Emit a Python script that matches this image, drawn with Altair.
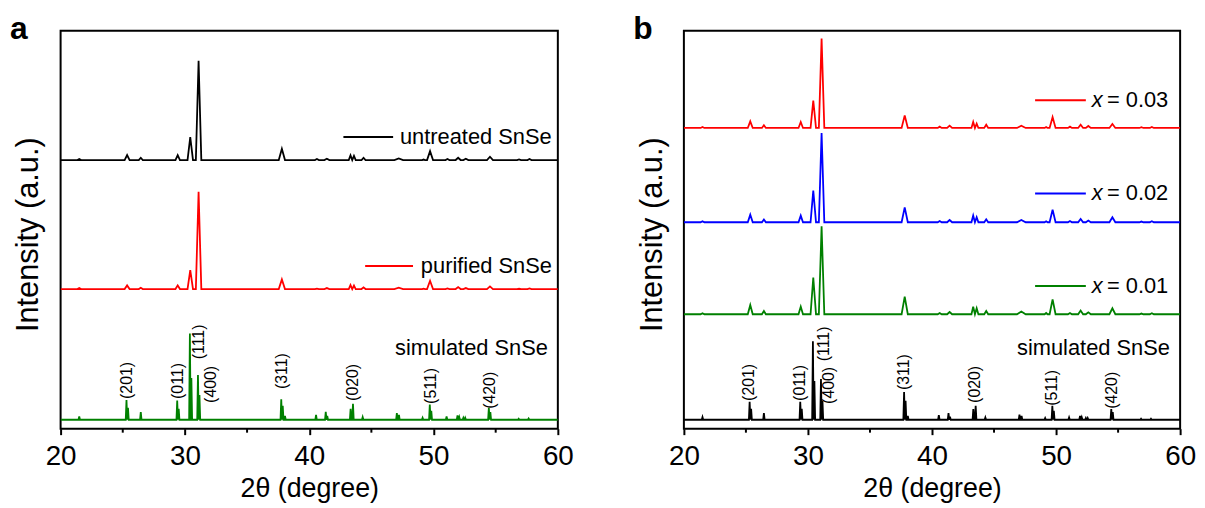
import altair as alt
import pandas as pd

# ---------------- data ----------------
X_DOMAIN = [20, 60]
Y_DOMAIN = [0, 401]          # arbitrary intensity units (offset stacked)
MAJOR_TICKS = [20, 30, 40, 50, 60]
MINOR_TICKS = [25, 35, 45, 55]

# measured patterns: shared peak positions (2theta, degree) and half widths
exp_pos = [21.5, 25.35, 26.45, 29.42, 30.43, 31.1, 37.8, 40.62, 41.42, 43.32, 43.6,
           44.37, 47.2, 49.2, 49.72, 51.12, 51.98, 52.6, 54.54, 56.88, 57.72]
exp_hw = [0.15, 0.2, 0.16, 0.18, 0.22, 0.22, 0.25, 0.16, 0.2, 0.14, 0.14,
          0.16, 0.35, 0.12, 0.24, 0.16, 0.2, 0.2, 0.24, 0.16, 0.16]

untreated_h = [1, 5, 2.3, 5, 23, 100, 11.3, 1, 1.3, 4.7, 4.2,
               2.3, 1.7, 0.5, 9, 1, 2.3, 1.3, 3.3, 0.7, 1]
purified_h = [1, 3.7, 1.3, 3.7, 19, 98, 9.7, 0.5, 1, 4, 3.5,
              1.7, 1.3, 0.4, 8.3, 0.7, 2, 1, 2.7, 0.3, 0.7]
x003_h = [1, 6.7, 2.7, 6, 27.7, 90, 12.7, 1.3, 2.3, 6, 4.3,
          3.3, 2.3, 1, 11, 1.3, 3.3, 2, 4, 0.7, 1]
x002_h = [1, 7.7, 2.7, 6.7, 32, 90, 15, 1.3, 2.3, 6.7, 5,
          3, 2.3, 1, 12.7, 1.3, 3.3, 1.7, 5, 0.7, 1]
x001_h = [1, 9.3, 3.3, 7.7, 37, 88.7, 17.7, 1.3, 2.3, 7.7, 6,
          3.3, 2.7, 1.3, 15, 1.3, 3.7, 2, 6, 0.7, 1]

# simulated SnSe pattern: line positions, half widths
sim_pos = [21.5, 25.3, 25.42, 26.45, 29.38, 29.5, 30.4, 30.52, 31.05, 31.17, 37.75, 37.87,
           38.05, 40.55, 41.33, 41.45, 43.33, 43.52, 44.3, 47.05, 47.22, 49.12, 49.7, 49.82,
           51.05, 51.93, 52.07, 52.4, 52.55, 54.45, 54.57, 56.85, 57.65]
sim_hw = [0.06] * len(sim_pos)
sim_a_h = [3.3, 20, 12, 7.7, 19.3, 11, 87, 42, 45, 25, 20.7, 14,
           4, 5, 8, 4, 11, 16, 2.7, 6.7, 5, 2, 15.3, 9,
           3.3, 4.3, 2.7, 2, 2, 12, 7.7, 1, 1.3]
sim_b_h = [2.7, 18, 11, 6.7, 18, 11, 79, 39, 41, 19, 28, 19,
           4, 4.7, 6.7, 3, 10.7, 14, 2.3, 5.3, 4, 1.7, 14, 9,
           2.3, 4, 2.5, 1.7, 1.7, 10.7, 7.7, 1, 1]

# baseline offsets of the stacked patterns
base_a = {"untreated SnSe": 270.7, "purified SnSe": 140.7, "simulated a": 9}
base_b = {"x = 0.03": 303, "x = 0.02": 208, "x = 0.01": 115.3, "simulated b": 9}

# (hkl) labels: text, position (degree), bottom of text (intensity units)
hkl_text = ["(201)", "(011)", "(111)", "(400)", "(311)", "(020)", "(511)", "(420)"]
hkl_x_a = [25.35, 29.42, 31.1, 32.14, 37.8, 43.55, 49.78, 54.57]
hkl_y_a = [30, 30, 70, 26, 40, 28, 25, 20]
hkl_x_b = [25.24, 29.33, 31.33, 31.73, 37.74, 43.5, 49.68, 54.49]
hkl_y_b = [28, 28, 68, 25, 39, 26, 23, 20]

# inline legend entries: label, line start/end (degree), level, text start (degree)
leg_a_label = ["untreated SnSe", "purified SnSe"]
leg_a_x1 = [42.75, 44.5]
leg_a_x2 = [46.75, 48.35]
leg_a_y = [294, 164]
leg_a_tx = [47.3, 48.98]
leg_b_val = ["= 0.03", "= 0.02", "= 0.01"]
leg_b_x1 = [48.31, 48.31, 48.31]
leg_b_x2 = [52.4, 52.4, 52.4]
leg_b_y = [331, 237, 143.7]
leg_b_tx = [52.87, 52.87, 52.87]
leg_b_tx2 = [54.1, 54.1, 54.1]
sim_label_x = [46.9, 46.85]
sim_label_y = [81, 81]

COLORS = {"untreated SnSe": "#000000", "purified SnSe": "#ff0000", "simulated a": "#008000",
          "x = 0.03": "#ff0000", "x = 0.02": "#0000ff", "x = 0.01": "#008000",
          "simulated b": "#000000"}
LEG_B_COLORS = ["#ff0000", "#0000ff", "#008000"]

FONT = "Liberation Sans"


def trace(name, pos, hw, heights, base):
    xs, ys = [X_DOMAIN[0]], [base]
    for p, w, h in zip(pos, hw, heights):
        xs += [p - w, p, p + w]
        ys += [base, base + h, base]
    xs.append(X_DOMAIN[1])
    ys.append(base)
    return pd.DataFrame({"x": xs, "y": ys, "series": name, "o": range(len(xs))})


df_a = pd.concat([
    trace("untreated SnSe", exp_pos, exp_hw, untreated_h, base_a["untreated SnSe"]),
    trace("purified SnSe", exp_pos, exp_hw, purified_h, base_a["purified SnSe"]),
    trace("simulated a", sim_pos, sim_hw, sim_a_h, base_a["simulated a"]),
])
df_b = pd.concat([
    trace("x = 0.03", exp_pos, exp_hw, x003_h, base_b["x = 0.03"]),
    trace("x = 0.02", exp_pos, exp_hw, x002_h, base_b["x = 0.02"]),
    trace("x = 0.01", exp_pos, exp_hw, x001_h, base_b["x = 0.01"]),
    trace("simulated b", sim_pos, sim_hw, sim_b_h, base_b["simulated b"]),
])

xs = alt.Scale(domain=X_DOMAIN, nice=False, zero=False)
ys = alt.Scale(domain=Y_DOMAIN, nice=False, zero=False)

X_AXIS = alt.Axis(
    values=MAJOR_TICKS, title="2θ (degree)", grid=False, domain=False,
    ticks=True, tickSize=6, tickWidth=2, tickColor="black",
    labelFontSize=28, labelColor="black", labelFont=FONT, labelPadding=8,
    labelFlush=False,
    titleFontSize=27, titleFontWeight="normal", titleColor="black",
    titleFont=FONT, titleY=47, titleBaseline="top")
Y_AXIS = alt.Axis(
    title="Intensity (a.u.)", labels=False, ticks=False, domain=False, grid=False,
    titleFontSize=31, titleFontWeight="normal", titleColor="black", titleFont=FONT,
    titleX=-23, titleY=205, titleBaseline="alphabetic", titleAngle=270)


def X(field):
    return alt.X(field, scale=xs, axis=X_AXIS)


def Y(field):
    return alt.Y(field, scale=ys, axis=Y_AXIS)


def panel(df, width, letter, hkl_x, hkl_y, sim_x, sim_y, legend_layers):
    names = list(df["series"].unique())
    lines = alt.Chart(df).mark_line(strokeWidth=1.8, clip=True).encode(
        x=X("x:Q"), y=Y("y:Q"),
        color=alt.Color("series:N", legend=None,
                        scale=alt.Scale(domain=names, range=[COLORS[n] for n in names])),
        order=alt.Order("o:Q"),
    )
    minor = alt.Chart(pd.DataFrame({"x": MINOR_TICKS})).mark_rule(
        color="black", strokeWidth=2).encode(
        x=X("x:Q"), y=alt.value(401), y2=alt.value(405))
    hkl = alt.Chart(pd.DataFrame({"t": hkl_text, "x": hkl_x, "y": hkl_y})).mark_text(
        angle=270, align="left", baseline="middle", fontSize=16, font=FONT, color="black"
    ).encode(x=X("x:Q"), y=Y("y:Q"), text="t:N")
    sim = alt.Chart(pd.DataFrame({"t": ["simulated SnSe"], "x": [sim_x], "y": [sim_y]})
                    ).mark_text(align="left", baseline="middle", fontSize=22, font=FONT,
                                color="black").encode(x=X("x:Q"), y=Y("y:Q"), text="t:N")
    let = alt.Chart(pd.DataFrame({"t": [letter]})).mark_text(
        align="left", baseline="alphabetic", fontSize=32, fontWeight="bold", font=FONT,
        color="black").encode(x=alt.value(-51), y=alt.value(8), text="t:N")
    return alt.layer(lines, minor, hkl, sim, *legend_layers, let).properties(
        width=width, height=401)


# legends for panel a
leg_a_df = pd.DataFrame({"label": leg_a_label, "x": leg_a_x1, "x2": leg_a_x2,
                         "y": leg_a_y, "tx": leg_a_tx,
                         "c": [COLORS[n] for n in leg_a_label]})
leg_a_lines = alt.Chart(leg_a_df).mark_rule(strokeWidth=2).encode(
    x=X("x:Q"), x2="x2:Q", y=Y("y:Q"),
    color=alt.Color("c:N", scale=None, legend=None))
leg_a_text = alt.Chart(leg_a_df).transform_calculate(x="datum.tx").mark_text(
    align="left", baseline="middle", fontSize=22, font=FONT, color="black").encode(
    x=X("x:Q"), y=Y("y:Q"), text="label:N")

leg_b_df = pd.DataFrame({"val": leg_b_val, "x": leg_b_x1, "x2": leg_b_x2, "y": leg_b_y,
                         "tx": leg_b_tx, "tx2": leg_b_tx2, "c": LEG_B_COLORS,
                         "v": ["x"] * 3})
leg_b_lines = alt.Chart(leg_b_df).mark_rule(strokeWidth=2).encode(
    x=X("x:Q"), x2="x2:Q", y=Y("y:Q"),
    color=alt.Color("c:N", scale=None, legend=None))
leg_b_var = alt.Chart(leg_b_df).transform_calculate(x="datum.tx").mark_text(
    align="left", baseline="middle", fontSize=22, font=FONT, fontStyle="italic",
    color="black").encode(x=X("x:Q"), y=Y("y:Q"), text="v:N")
leg_b_text = alt.Chart(leg_b_df).transform_calculate(x="datum.tx2").mark_text(
    align="left", baseline="middle", fontSize=22, font=FONT, color="black").encode(
    x=X("x:Q"), y=Y("y:Q"), text="val:N")

pa = panel(df_a, 501, "a", hkl_x_a, hkl_y_a, sim_label_x[0], sim_label_y[0],
           [leg_a_lines, leg_a_text])
pb = panel(df_b, 500, "b", hkl_x_b, hkl_y_b, sim_label_x[1], sim_label_y[1],
           [leg_b_lines, leg_b_var, leg_b_text])

chart = alt.hconcat(pa, pb, spacing=127, bounds="flush").resolve_scale(
    color="independent").properties(
    padding={"left": 1, "top": 2, "right": 0, "bottom": 0}
).configure(font=FONT).configure_view(stroke="black", strokeWidth=2)

chart.save("out.html", embed_options={"renderer": "svg", "actions": False})
